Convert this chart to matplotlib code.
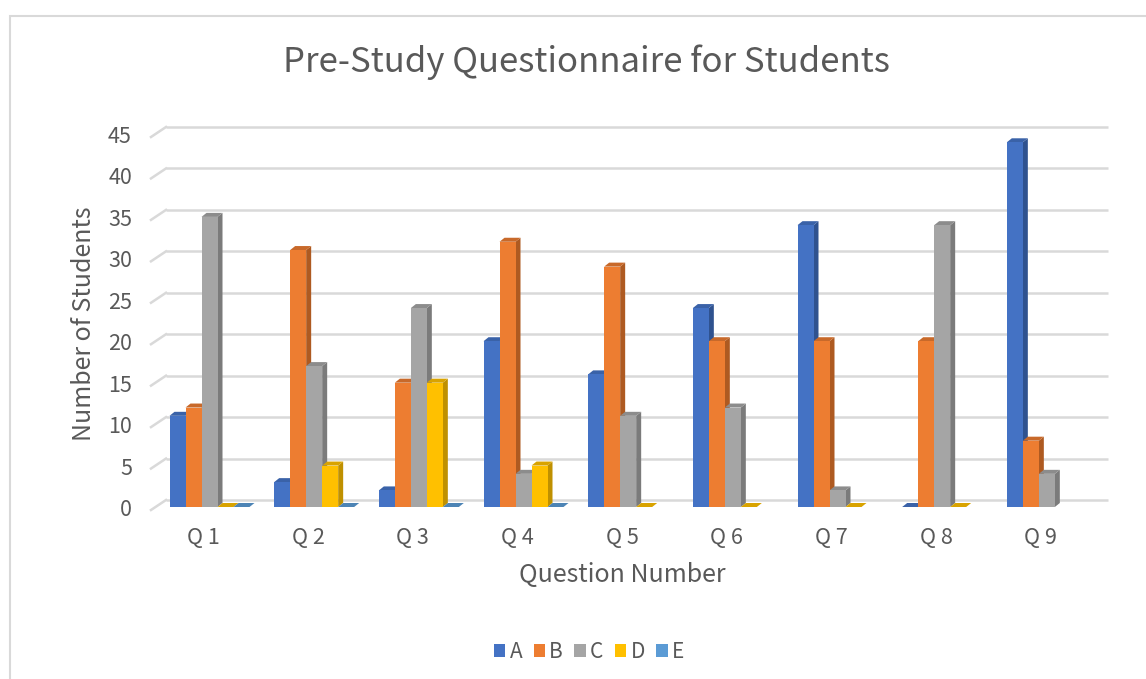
import numpy as np
import matplotlib
matplotlib.use("Agg")
import matplotlib.pyplot as plt
from matplotlib.patches import Polygon, Rectangle
from matplotlib.transforms import offset_copy

# data
questions = ["Q 1", "Q 2", "Q 3", "Q 4", "Q 5", "Q 6", "Q 7", "Q 8", "Q 9"]
A = [11, 3, 2, 20, 16, 24, 34, 0, 44]
B = [12, 31, 15, 32, 29, 20, 20, 20, 8]
C = [35, 17, 24, 4, 11, 12, 2, 34, 4]
D = [0, 5, 15, 5, 0, 0, 0, 0, np.nan]
E = [0, 0, 0, 0, np.nan, np.nan, np.nan, np.nan, np.nan]
series_names = ["A", "B", "C", "D", "E"]
yticks = list(range(0, 50, 5))

face = ["#4472C4", "#ED7D31", "#A5A5A5", "#FFC000", "#5B9BD5"]
side = ["#2F528F", "#AE5A21", "#7B7B7B", "#BF9000", "#41719C"]
top = ["#3A62A8", "#C8692A", "#8C8C8C", "#D9A300", "#4D84B5"]
txt = "#595959"

plt.rcParams['font.family'] = ['Noto Sans CJK SC', 'DejaVu Sans']

fig = plt.figure(figsize=(11.46, 6.79), dpi=100)
W, H = 1146, 679
ax = fig.add_axes([151 / W, 169 / H, 942 / W, 373 / H])
ax.set_xlim(0, len(questions))
ax.set_ylim(0, 45)
ax.axis("off")

# pixel -> data scale
px_x = len(questions) / 942.0
px_y = 45 / 373.0

# back wall grid (shifted back in depth)
back = offset_copy(ax.transData, fig=fig, x=15, y=10, units='dots')
for v in yticks:
    ax.plot([0, len(questions)], [v, v], color="#D9D9D9", lw=1.8,
            transform=back, zorder=1, solid_capstyle='butt', clip_on=False)
    ax.plot([0, 15 * px_x], [v, v + 10 * px_y], color="#D9D9D9", lw=1.8,
            zorder=1, clip_on=False)
    ax.text(-19 * px_x, v, str(v), ha="right", va="center", fontsize=15.5,
            color=txt)

# bars with 3d faces
barw = 16 * px_x
dx, dy = 5 * px_x, 4 * px_y
mid = offset_copy(ax.transData, fig=fig, x=4.5, y=3, units='dots')
data = [A, B, C, D, E]
x0 = np.arange(len(questions)) + 14 * px_x
for i, vals in enumerate(data):
    for j, v in enumerate(vals):
        if np.isnan(v):
            continue
        xl = x0[j] + i * barw
        xr = xl + barw
        ax.add_patch(Polygon([(xr, 0), (xr + dx, dy), (xr + dx, v + dy), (xr, v)],
                             closed=True, fc=side[i], ec="none",
                             transform=mid, zorder=2, clip_on=False))
        ax.add_patch(Polygon([(xl, v), (xr, v), (xr + dx, v + dy), (xl + dx, v + dy)],
                             closed=True, fc=top[i], ec="none",
                             transform=mid, zorder=2, clip_on=False))
        ax.bar(xl, v, width=barw, align="edge", color=face[i],
               transform=mid, zorder=3, clip_on=False)

for j, q in enumerate(questions):
    ax.text(j + 0.5, -3.4, q, ha="center", va="center", fontsize=15.5,
            color=txt)

fig.text(586 / W, 1 - 62 / H, "Pre-Study Questionnaire for Students",
         ha="center", va="center", fontsize=25, color=txt)
fig.text(84 / W, 1 - 324 / H, "Number of Students", rotation=90,
         ha="center", va="center", fontsize=18, color=txt)
fig.text(622 / W, 1 - 575 / H, "Question Number",
         ha="center", va="center", fontsize=18, color=txt)

handles = [Rectangle((0, 0), 1, 1, fc=c) for c in face]
fig.legend(handles, series_names, loc="center", bbox_to_anchor=(589 / W, 1 - 652 / H),
           ncol=5, frameon=False, fontsize=15, handlelength=0.55, handleheight=0.55,
           handletextpad=0.2, columnspacing=0.55, labelcolor=txt)

# chart border
fig.patches.append(Rectangle((10 / W, -0.1), 1.2, 1 - 16 / H + 0.1,
                             transform=fig.transFigure, fill=False,
                             ec="#D9D9D9", lw=1.5))

fig.savefig("out.png", dpi=100)
